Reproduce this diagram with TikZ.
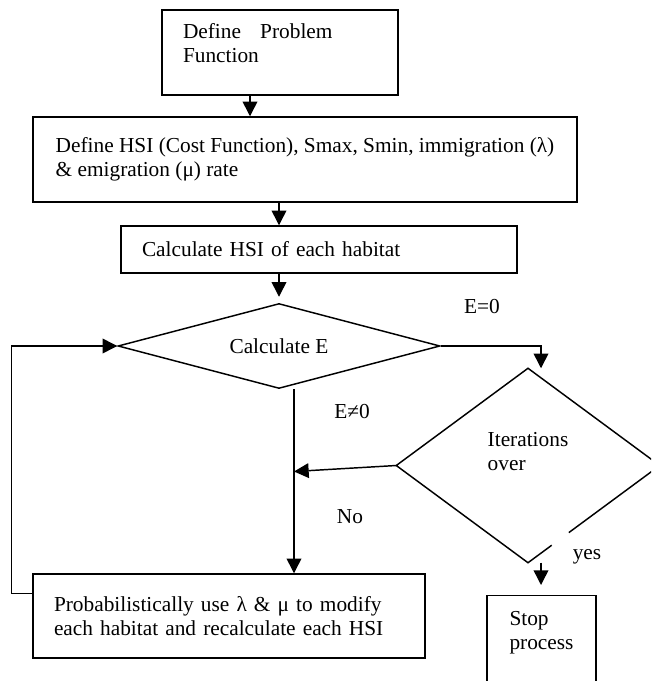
\documentclass[tikz,border=0pt]{standalone}
\usepackage{fontspec}
\setmainfont{Liberation Serif}
\usepackage{tikz}
\usetikzlibrary{shapes.geometric, arrows.meta, calc}

\begin{document}
\begin{tikzpicture}[
  x=0.75pt, y=-0.75pt, line width=1.1pt,
  font=\fontsize{16pt}{18pt}\selectfont,
  box/.style={rectangle, draw=black, align=left, inner xsep=15.75pt,
              inner ysep=0pt},
  dec/.style={diamond, draw=black, align=left, inner sep=0pt},
  lbl/.style={inner sep=0pt},
  arr/.style={-{Triangle[length=11pt, width=11pt]}}
]
  \useasboundingbox (0,0) rectangle (651,681);
  \clip (0,0) rectangle (651,681);

  % Process boxes
  \node[box, text width=145.5pt, minimum height=63.75pt] (defprob) at (280,52.5)
    {Define\hspace{0.9em}Problem\\Function\\[-3.25pt]\mbox{}};
  \node[box, inner xsep=10pt, minimum width=408pt, minimum height=63.75pt]
    (defhsi) at (305,159.5)
    {Define HSI (Cost Function), Smax, Smin, immigration (λ)\\\& emigration (μ) rate};
  \node[box, text width=265.5pt, minimum height=35.25pt] (calchsi) at (319,249.5)
    {Calculate HSI of each habitat};
  \node[box, text width=262.5pt, minimum height=63pt] (modify) at (229,616)
    {Probabilistically use λ \& μ to modify\\each habitat and recalculate each HSI};
  \node[box, anchor=north, minimum width=81.75pt, minimum height=82.5pt]
    (stop) at (541.5,595) {Stop\\process\\[12.5pt]\mbox{}};

  % Decisions
  \node[dec, aspect=3.8, minimum width=241.5pt, minimum height=63.75pt]
    (calce) at (279,346) {Calculate E};
  \node[dec, draw=none, aspect=1.36, minimum width=196.5pt, minimum height=144.75pt]
    (iter) at (528,465.5) {Iterations\\over\\[3pt]\mbox{}};
  \draw (iter.east) -- (iter.north) -- (iter.west) -- (iter.south)
        -- ($(iter.south)!0.18!(iter.east)$);
  \draw ($(iter.south)!0.31!(iter.east)$) -- (iter.east);

  % Connectors
  \coordinate (j1) at ($(defprob.south)+(-30,0)$);
  \draw[arr] (j1) -- (j1 |- defhsi.north);
  \draw[arr] (defhsi.south -| calce.north) -- (calchsi.north -| calce.north);
  \draw[arr, shorten >=4.5pt] (calchsi.south -| calce.north) -- (calce.north);

  \coordinate (j2) at ($(iter.north)+(13,0)$);
  \draw[arr] (calce.east) -| (j2);

  \coordinate (j3) at ($(calce.south)+(15,0)$);
  \draw[arr] (j3) -- (j3 |- modify.north);

  \coordinate (j4) at (iter.west -| j3);
  \draw[arr] (iter.west) -- ($(j4)+(0,6)$);

  \coordinate (j5) at ($(iter.south)+(13,0)$);
  \draw[arr, shorten >=7.5pt] (j5) -- (j5 |- stop.north);

  \coordinate (j6) at ($(modify.north west)+(0,20)$);
  \draw[arr] (j6) -- ++(-21,0) |- (calce.west);

  % Labels
  \node[lbl] (eq0)  at (482,307) {E=0};
  \node[lbl] (neq0) at (352,412) {E≠0};
  \node[lbl] (no)   at (350,517) {No};
  \node[lbl] (yes)  at (587,557) {yes};
\end{tikzpicture}
\end{document}
